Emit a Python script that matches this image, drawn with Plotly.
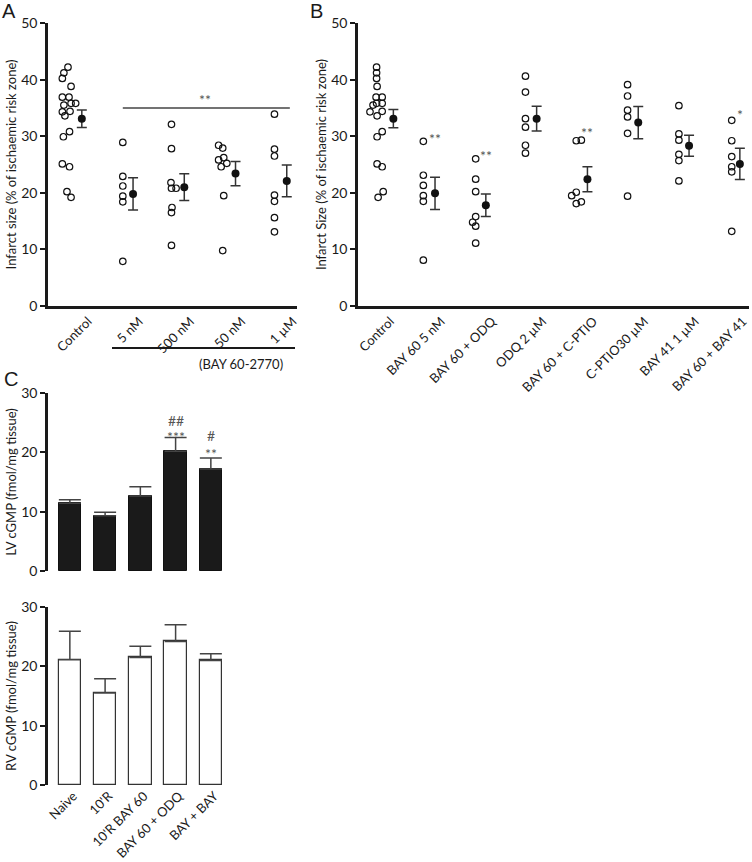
import plotly.graph_objects as go

# ---- panel A: infarct size vs BAY 60-2770 dose ----
a_groups = ["Control", "5 nM", "500 nM", "50 nM", "1 µM"]
control = [42.2, 41.2, 40.2, 38.8, 36.9, 36.9, 35.5, 35.8, 35.8, 34.3, 34.4, 33.6,
           30.8, 29.9, 25.1, 24.6, 20.2, 19.2]
a_5nm = [28.9, 22.9, 21.2, 19.4, 18.4, 7.9]
a_500nm = [32.1, 27.8, 21.8, 20.8, 20.8, 17.4, 16.5, 10.7]
a_50nm = [28.4, 27.9, 25.8, 26.2, 25.2, 24.6, 19.5, 9.8]
a_1um = [33.9, 27.7, 26.5, 19.6, 18.5, 15.6, 13.1]
a_mean = [33.1, 19.8, 21.0, 23.4, 22.1]
a_sem = [1.55, 2.85, 2.35, 2.15, 2.8]

# ---- panel B: infarct size, pharmacological blockers ----
b_groups = ["Control", "BAY 60 5 nM", "BAY 60 + ODQ", "ODQ 2 µM", "BAY 60 + C-PTIO",
            "C-PTIO30 µM", "BAY 41 1 µM", "BAY 60 + BAY 41"]
b_bay60 = [29.1, 23.1, 21.3, 19.5, 18.5, 8.1]
b_bay60_odq = [26.0, 22.4, 20.2, 15.8, 14.8, 14.1, 11.1]
b_odq = [40.6, 37.8, 33.1, 31.6, 28.4, 27.0]
b_bay60_cptio = [29.2, 29.3, 20.1, 19.5, 18.4, 18.1]
b_cptio = [39.1, 37.1, 34.6, 33.4, 30.5, 19.4]
b_bay41 = [35.4, 30.4, 29.3, 26.8, 25.7, 22.1]
b_bay60_bay41 = [32.8, 29.2, 26.4, 24.6, 23.7, 13.2]
b_mean = [33.1, 19.9, 17.8, 33.1, 22.4, 32.4, 28.3, 25.1]
b_sem = [1.6, 2.85, 2.0, 2.2, 2.2, 2.85, 1.85, 2.75]

# ---- panel C: cGMP ----
c_groups = ["Naive", "10'R", "10'R BAY 60", "BAY 60 + ODQ", "BAY + BAY"]
lv_cgmp = [11.4, 9.3, 12.65, 20.2, 17.2]
lv_err = [0.6, 0.6, 1.55, 2.3, 1.85]
rv_cgmp = [21.1, 15.5, 21.5, 24.2, 21.0]
rv_err = [4.8, 2.4, 1.9, 2.8, 1.1]

# horizontal scatter of the dots, as drawn in the figure (offset from group centre)
a_jit = [
    [-0.27, -0.35, -0.38, -0.21, -0.38, -0.25, -0.35, -0.21, -0.12, -0.38, -0.23, -0.33,
     -0.24, -0.36, -0.38, -0.24, -0.29, -0.21],
    [-0.2] * 6,
    [-0.25, -0.25, -0.26, -0.25, -0.16, -0.24, -0.25, -0.25],
    [-0.33, -0.25, -0.33, -0.23, -0.17, -0.28, -0.23, -0.25],
    [-0.24] * 7,
]
b_jit = [
    [-0.33, -0.33, -0.33, -0.32, -0.34, -0.22, -0.40, -0.33, -0.22, -0.46, -0.22, -0.32,
     -0.22, -0.32, -0.32, -0.22, -0.20, -0.30],
    [-0.23] * 6,
    [-0.2, -0.2, -0.2, -0.2, -0.26, -0.2, -0.2],
    [-0.22] * 6,
    [-0.22, -0.12, -0.22, -0.31, -0.12, -0.22],
    [-0.21] * 6,
    [-0.2] * 6,
    [-0.16] * 6,
]

W, H = 752, 862
FONT = "Lato"
INK = "#1a1a1a"

fig = go.Figure()


def dot_panel(groups, jit, means, sems, centres, xa, ya):
    for c, vals, jj in zip(centres, groups, jit):
        fig.add_trace(go.Scatter(
            x=[c + j for j in jj], y=vals, mode="markers", xaxis=xa, yaxis=ya,
            marker=dict(symbol="circle-open", size=6.5, color="#111", line=dict(width=1.2)),
            showlegend=False))
    fig.add_trace(go.Scatter(
        x=centres, y=means, mode="markers", xaxis=xa, yaxis=ya,
        marker=dict(symbol="circle", size=8, color="#111"),
        error_y=dict(type="data", array=sems, color="#333", thickness=1.5, width=5),
        showlegend=False))


a_pos = list(range(5))
b_pos = [0.18] + list(range(1, 8))  # control column sits a little right in panel B
dot_panel([control, a_5nm, a_500nm, a_50nm, a_1um], a_jit, a_mean, a_sem, a_pos, "x", "y")
dot_panel([control, b_bay60, b_bay60_odq, b_odq, b_bay60_cptio, b_cptio, b_bay41, b_bay60_bay41],
          b_jit, b_mean, b_sem, b_pos, "x2", "y2")

fig.add_trace(go.Bar(
    x=list(range(5)), y=lv_cgmp, width=0.64, xaxis="x3", yaxis="y3",
    marker=dict(color="#1a1a1a", line=dict(color="#111", width=1)),
    error_y=dict(type="data", symmetric=False, array=lv_err, arrayminus=[0] * 5,
                 color="#444", thickness=1.5, width=11),
    showlegend=False))
fig.add_trace(go.Bar(
    x=list(range(5)), y=rv_cgmp, width=0.64, xaxis="x4", yaxis="y4",
    marker=dict(color="white", line=dict(color="#333", width=1.2)),
    error_y=dict(type="data", symmetric=False, array=rv_err, arrayminus=[0] * 5,
                 color="#444", thickness=1.5, width=11),
    showlegend=False))


def px_x(a, b):
    return [a / W, b / W]


def px_y(top, bottom):
    return [1 - bottom / H, 1 - top / H]


yax = dict(showline=True, linecolor=INK, linewidth=2.5, ticks="outside", ticklen=5,
           tickwidth=2, tickcolor=INK, showgrid=False, zeroline=False, automargin=False,
           tickfont=dict(family=FONT, size=14, color=INK),
           title=dict(font=dict(family=FONT, size=13, color=INK), standoff=2))
xax = dict(showgrid=False, zeroline=False, ticks="", tickangle=-45, automargin=False,
           ticklabeloverflow="allow", tickfont=dict(family=FONT, size=13, color=INK))

fig.update_layout(
    width=W, height=H, margin=dict(l=0, r=0, t=0, b=0),
    plot_bgcolor="white", paper_bgcolor="white", bargap=0,
    xaxis=dict(xax, domain=px_x(48, 297), range=[-0.66, 4.2], anchor="y",
               showline=True, linecolor=INK, linewidth=2.5,
               tickvals=[p + 0.12 for p in a_pos], ticktext=a_groups),
    yaxis=dict(yax, domain=px_y(23, 306), range=[0, 50], anchor="x", tickvals=[0, 10, 20, 30, 40, 50],
               title_text="Infarct size (% of ischaemic risk zone)"),
    xaxis2=dict(xax, domain=px_x(358, 749), range=[-0.516, 7.18], anchor="y2",
                showline=True, linecolor=INK, linewidth=2.5,
                tickvals=[i + 0.12 for i in range(7)] + [7.06], ticktext=b_groups),
    yaxis2=dict(yax, domain=px_y(23, 306), range=[0, 50], anchor="x2", tickvals=[0, 10, 20, 30, 40, 50],
                title_text="Infarct Size (% of ischaemic risk zone)"),
    xaxis3=dict(xax, domain=px_x(48, 232), range=[-0.62, 4.6], anchor="y3",
                showline=False, showticklabels=False),
    yaxis3=dict(yax, domain=px_y(393, 571), range=[0, 30], anchor="x3", tickvals=[0, 10, 20, 30],
                title_text="LV cGMP (fmol/mg tissue)"),
    xaxis4=dict(xax, domain=px_x(48, 232), range=[-0.62, 4.6], anchor="y4",
                showline=False, tickvals=[i + 0.1 for i in range(5)], ticktext=c_groups),
    yaxis4=dict(yax, domain=px_y(607, 785), range=[0, 30], anchor="x4", tickvals=[0, 10, 20, 30],
                title_text="RV cGMP (fmol/mg tissue)"),
)

star = dict(showarrow=False, font=dict(family=FONT, size=14, color="#555"))
fig.add_annotation(x=2.4, y=36.4, xref="x", yref="y", text="**", **star)
fig.add_shape(type="line", x0=0.8, x1=4.06, y0=35, y1=35, xref="x", yref="y",
              line=dict(color="#444", width=1.5))
for gx, gy, txt in [(1, 29.6, "**"), (2, 26.6, "**"), (4, 30.6, "**"), (7, 33.9, "*")]:
    fig.add_annotation(x=gx, y=gy, xref="x2", yref="y2", text=txt, **star)
for gx, gy, txt in [(3, 22.6, "***"), (3, 25.3, "##"), (4, 19.8, "**"), (4, 22.8, "#")]:
    fig.add_annotation(x=gx, y=gy, xref="x3", yref="y3", text=txt, **star)

# bracket under the dose labels of panel A
fig.add_shape(type="line", x0=112 / W, x1=295 / W, y0=1 - 348 / H, y1=1 - 348 / H,
              xref="paper", yref="paper", line=dict(color=INK, width=2))
fig.add_annotation(x=197 / W, y=1 - 364 / H, xref="paper", yref="paper", text="(BAY 60-2770)",
                   showarrow=False, font=dict(family=FONT, size=13, color=INK))

for lx, ly, letter in [(9, 11, "A"), (316, 11, "B"), (11, 379, "C")]:
    fig.add_annotation(x=lx / W, y=1 - ly / H, xref="paper", yref="paper", text=letter,
                       xanchor="center", yanchor="middle", showarrow=False,
                       font=dict(family="Liberation Sans", size=20, color=INK))

# page body has a default 8px margin; drop it so the figure fills the window exactly
fig.write_html("out.html", config={"displayModeBar": False},
               post_script="document.body.style.margin='0';")
